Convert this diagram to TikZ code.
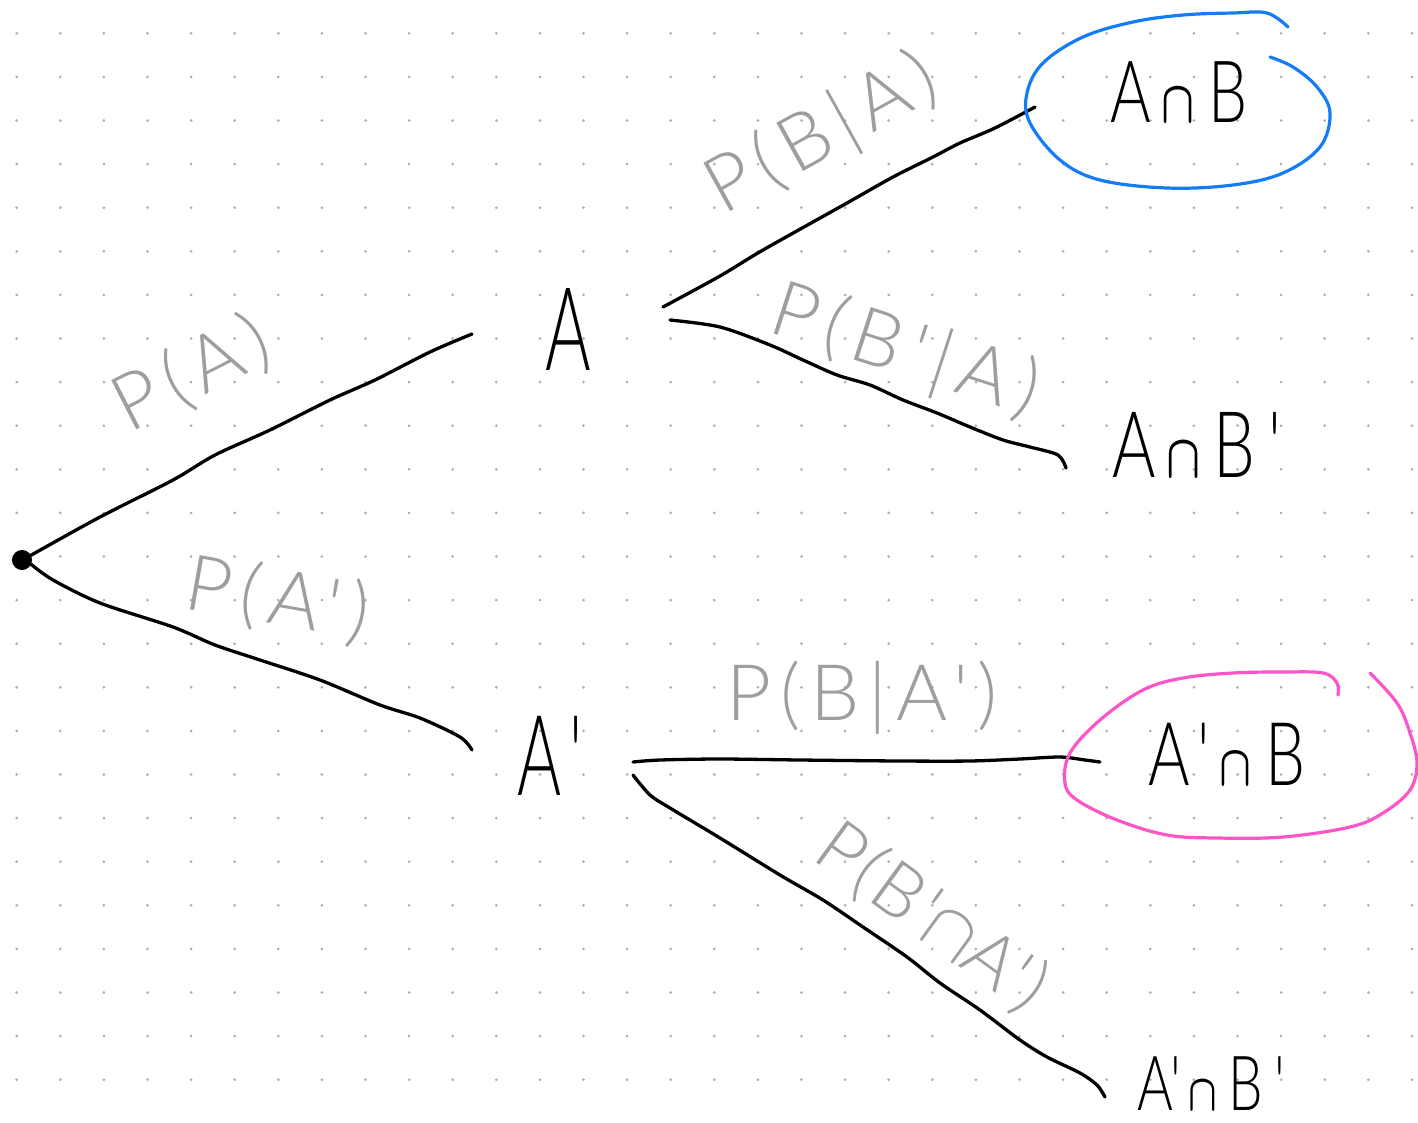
\RequirePackage{fix-cm}
\documentclass[tikz,border=0pt]{standalone}
\usepackage{fontspec}
\newfontfamily\hand[Ligatures=TeXOff]{Lato Light}
\definecolor{dotgray}{RGB}{175,175,175}
\definecolor{pencil}{RGB}{158,158,158}
\definecolor{inkblue}{RGB}{20,125,245}
\definecolor{inkpink}{RGB}{252,85,200}
% small hand-style intersection sign sitting on the baseline
\newcommand\smallcap[1]{{\fontsize{#1}{#1}\selectfont\boldmath$\cap$}}
\tikzset{
  branch/.style={line width=3.3pt, line cap=round, line join=round, black},
  ring/.style={line width=3.2pt, line cap=round, line join=round},
  event/.style={inner sep=0pt, anchor=base west, xscale=0.72,
    font=\hand\fontsize{86}{90}\selectfont},
  prob/.style={inner sep=0pt, text=pencil,
    font=\hand\fontsize{78}{80}\selectfont\addfontfeature{LetterSpace=12}},
}
\begin{document}
\begin{tikzpicture}[x=1pt, y=-1pt]
  % page and dotted paper
  \useasboundingbox (0,0) rectangle (1418,1122);
  \fill[white] (0,0) rectangle (1418,1122);
  \foreach \i in {0,...,32}
    \foreach \j in {0,...,24}
      \fill[dotgray] (16.7+43.6*\i, 33.3+43.6*\j) circle (1.5);

  % root of the tree
  \node[circle, fill=black, draw=black, line width=1pt, inner sep=0pt, minimum size=19pt] (root) at (22,560) {};

  % first level
  \node[event, xscale=0.6/0.72, font=\hand\fontsize{116}{120}\selectfont] (A) at (545,370) {A};
  \node[event, xscale=0.6/0.72, font=\hand\fontsize{112}{116}\selectfont] (Ap) at (517,795) {A\hspace{0.12em}'};

  % outcomes
  \node[event] (AB) at (1110,122) {A\hspace{0.18em}\smallcap{60}\hspace{0.22em}B};
  \node[event, font=\hand\fontsize{92}{96}\selectfont] (ABp) at (1112,477) {A\hspace{0.16em}\smallcap{62}\hspace{0.2em}B\hspace{0.2em}'};
  \node[event, font=\hand\fontsize{88}{92}\selectfont] (ApB) at (1148,785) {A\hspace{0.12em}'\hspace{0.15em}\smallcap{58}\hspace{0.22em}B};
  \node[event, font=\hand\fontsize{76}{80}\selectfont] (ApBp) at (1137,1110) {A'\hspace{0.15em}\smallcap{52}\hspace{0.2em}B\hspace{0.2em}'};

  % free ends of the hand-drawn branches
  \coordinate (aL)   at (472,334);
  \coordinate (apL)  at (472,750);
  \coordinate (aR1)  at (663,307);
  \coordinate (aR2)  at (670,320);
  \coordinate (apR1) at (633,762);
  \coordinate (apR2) at (633,775);
  \coordinate (abL)  at (1035,107);
  \coordinate (abpL) at (1066,468);
  \coordinate (apbL) at (1100,762);
  \coordinate (apbpL) at (1105,1097);

  % branches
  \draw[branch] plot[smooth, tension=0.5] coordinates {(root.28) (100,517) (173,480) (215,455) (270,430) (330,400) (375,380) (430,352) (aL)};
  \draw[branch] plot[smooth, tension=0.5] coordinates {(root.-25) (53,580) (100,603) (173,627) (215,645) (260,660) (320,680) (380,705) (420,718) (460,737) (apL)};
  \draw[branch] plot[smooth, tension=0.5] coordinates {(aR1) (720,276) (763,250) (847,203) (893,177) (933,157) (960,143) (995,128) (abL)};
  \draw[branch] plot[smooth, tension=0.5] coordinates {(aR2) (720,327) (770,345) (803,360) (837,375) (870,385) (903,400) (937,413) (970,427) (1003,440) (1030,447) (1058,455) (abpL)};
  \draw[branch] plot[smooth, tension=0.5] coordinates {(apR1) (660,760) (720,759) (800,760) (900,761) (970,761) (1020,759) (1060,757) (1085,760) (apbL)};
  \draw[branch] plot[smooth, tension=0.5] coordinates {(apR2) (650,795) (670,808) (720,838) (780,875) (823,900) (863,927) (907,957) (940,983) (980,1010) (1020,1040) (1047,1057) (1080,1073) (1097,1085) (apbpL)};

  % circled outcomes
  \draw[ring, inkblue] plot[smooth, tension=0.6] coordinates {(1270,57) (1293,67) (1317,87) (1330,113) (1320,147) (1283,173) (1233,185) (1167,188) (1100,180) (1060,160) (1030,123) (1027,93) (1043,63) (1083,37) (1133,22) (1183,15) (1233,13) (1267,13) (1288,27)};
  \draw[ring, inkpink] plot[smooth, tension=0.6] coordinates {(1370,673) (1397,703) (1410,733) (1417,763) (1410,790) (1383,813) (1350,827) (1283,837) (1217,838) (1167,835) (1117,820) (1077,800) (1065,783) (1070,753) (1100,720) (1143,690) (1183,678) (1233,673) (1283,672) (1323,673) (1337,683) (1338,695)};

  % branch probabilities
  \node[prob, rotate=27] (pA) at (192,374) {P(A)};
  \node[prob, rotate=-10] (pAp) at (278,600) {P(A')};
  \node[prob, rotate=29] (pBA) at (822,135) {P(B|A)};
  \node[prob, rotate=-18] (pBpA) at (905,352) {P(B'|A)};
  \node[prob] (pBAp) at (862,698) {P(B|A')};
  \node[prob, rotate=-36, font=\hand\fontsize{74}{76}\selectfont\addfontfeature{LetterSpace=4}] (pBpAp) at (932,918) {P(B'$\cap$A')};
\end{tikzpicture}
\end{document}
